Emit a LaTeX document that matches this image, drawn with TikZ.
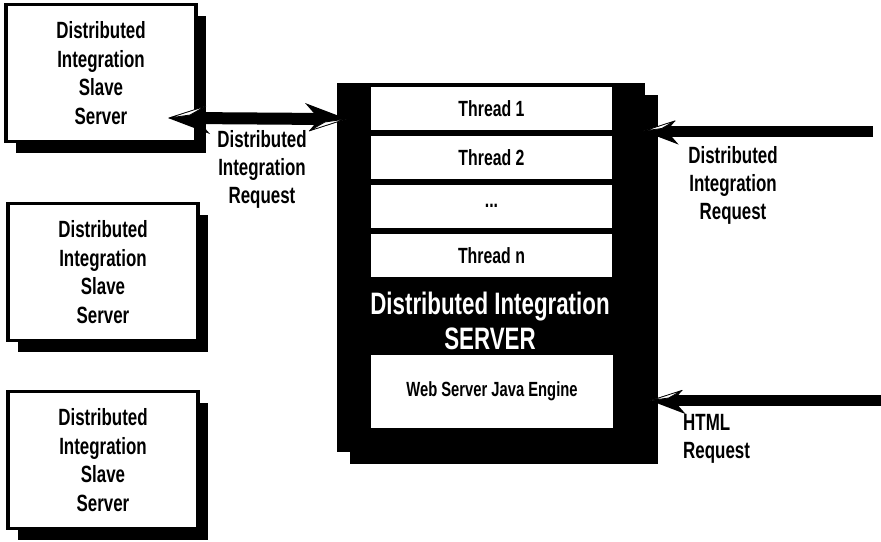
\documentclass[tikz,border=0pt]{standalone}
\usepackage{fontspec}
\usepackage{tikz}
\usetikzlibrary{positioning, shadows}
\newfontfamily\condfont{Liberation Sans}[FakeStretch=0.72]
\tikzset{
  disblock/.style={rectangle, inner sep=0pt, align=center},
  disslave/.style={disblock, draw=black, line width=3.5pt, fill=white,
                   minimum width=190pt, minimum height=137pt,
                   font=\condfont\bfseries\fontsize{23.5}{28.5}\selectfont,
                   drop shadow={shadow xshift=10pt, shadow yshift=-11pt,
                                opacity=1, fill=black}},
  disserver/.style={disblock, fill=black, minimum width=308pt, minimum height=369pt,
                    drop shadow={shadow xshift=13pt, shadow yshift=-12pt,
                                 opacity=1, fill=black}},
  disthread/.style={disblock, fill=white, minimum width=241pt, minimum height=43pt,
                    font=\condfont\bfseries\fontsize{22}{25}\selectfont},
  dislabel/.style={align=center, inner sep=0pt,
                   font=\condfont\bfseries\fontsize{23.5}{28}\selectfont},
  disarrow/.style={line width=12pt, black},
  twisthead/.pic={
    \fill[black] (0,0) -- (-42,-16) -- (-28,0) -- (-38,12) -- cycle;
    \filldraw[fill=white, draw=black, line width=0.8pt]
      (-1,0) -- (-38,12) -- (-22,3) -- cycle;
  },
}

\begin{document}
\begin{tikzpicture}[x=1pt, y=-1pt]
  \useasboundingbox (0,0) rectangle (881,541);

  % slave servers on the left
  \node[disslave] (slave1) at (101,73)  {Distributed\\Integration\\Slave\\Server};
  \node[disslave] (slave2) at (103,272) {Distributed\\Integration\\Slave\\Server};
  \node[disslave] (slave3) at (103,460) {Distributed\\Integration\\Slave\\Server};

  % main server with its thread pool
  \node[disserver] (server) at (491,267.5) {};
  \node[disthread] (thr1) at (491.5,108.5) {Thread 1};
  \node[disthread, below=5.5pt of thr1] (thr2) {Thread 2};
  \node[disthread, below=5.5pt of thr2] (thrd) {...};
  \node[disthread, below=5.5pt of thrd] (thrn) {Thread n};
  \node[dislabel, text=white, font=\condfont\bfseries\fontsize{31}{35}\selectfont]
    (title) at (490,320.5) {Distributed Integration\\SERVER};
  \node[disthread, minimum width=242pt, minimum height=73pt,
        font=\condfont\bfseries\fontsize{20.5}{24}\selectfont]
    (web) at (492,391.5) {Web Server Java Engine};

  % request arrows
  \coordinate (slavetip) at (168,118);
  \coordinate (servtip) at (347,119);
  \coordinate (dreqend) at (873,131);
  \coordinate (dreqtip) at (643,131);
  \coordinate (htmlend) at (881,400.5);
  \coordinate (htmltip) at (650,400.5);

  \draw[disarrow] ([xshift=20pt]slavetip) -- ([xshift=-20pt]servtip);
  \pic[rotate=180] at (slavetip) {twisthead};
  \pic at (servtip) {twisthead};

  \draw[disarrow, line width=11pt] (dreqend) -- ([xshift=20pt]dreqtip);
  \pic[rotate=180, scale=0.85] at (dreqtip) {twisthead};
  \draw[disarrow, line width=11pt] (htmlend) -- ([xshift=20pt]htmltip);
  \pic[rotate=180, scale=0.85] at (htmltip) {twisthead};

  % labels
  \node[dislabel] (dreqleft) at (262,169) {Distributed\\Integration\\Request};
  \node[dislabel] (dreqright) at (733,185) {Distributed\\Integration\\Request};
  \node[dislabel, align=left, anchor=west] (htmlreq) at (683,439) {HTML\\Request};
\end{tikzpicture}
\end{document}
